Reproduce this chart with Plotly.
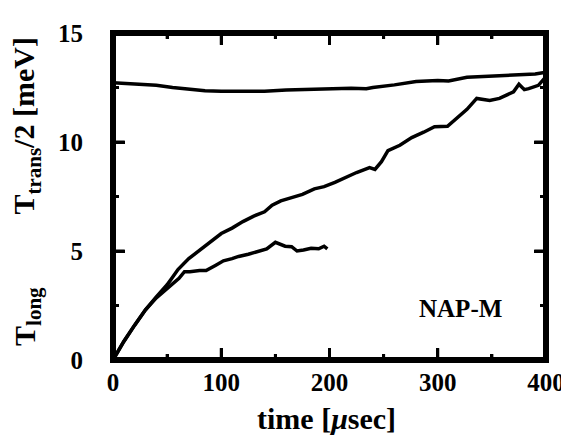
import plotly.graph_objects as go

# T_trans/2 curve
t_trans = [0, 10, 25, 40, 55, 70, 85, 100, 120, 140, 160, 180, 200, 220, 234, 240, 260, 280, 300, 310, 327, 340, 357, 370, 380, 390, 400]
y_trans = [12.72, 12.7, 12.66, 12.6, 12.5, 12.42, 12.35, 12.33, 12.32, 12.33, 12.38, 12.42, 12.45, 12.47, 12.44, 12.5, 12.62, 12.78, 12.82, 12.8, 12.97, 13.0, 13.07, 13.08, 13.1, 13.12, 13.2]

# T_long, long run (to 400 usec)
t_long = [0, 5, 10, 20, 30, 40, 50, 55, 60, 70, 80, 90, 100, 110, 120, 130, 140, 147, 155, 165, 175, 186, 195, 205, 216, 225, 237, 242, 248, 254, 265, 276, 287, 297, 309, 318, 327, 336, 348, 357, 363, 370, 375, 380, 384, 393, 400]
y_long = [0, 0.45, 0.85, 1.6, 2.3, 2.9, 3.45, 3.8, 4.15, 4.65, 5.05, 5.45, 5.8, 6.05, 6.35, 6.6, 6.8, 7.1, 7.3, 7.45, 7.6, 7.85, 7.95, 8.15, 8.4, 8.6, 8.83, 8.74, 9.1, 9.6, 9.85, 10.2, 10.45, 10.7, 10.72, 11.1, 11.5, 12.0, 11.9, 12.0, 12.15, 12.3, 12.65, 12.4, 12.45, 12.6, 13.0]

# T_long, short run (to 200 usec)
t_short = [0, 10, 20, 30, 40, 50, 55, 61, 66, 71, 80, 86, 95, 102, 110, 116, 125, 134, 142, 150, 155, 159, 165, 170, 176, 183, 190, 195, 198]
y_short = [0, 0.85, 1.6, 2.3, 2.85, 3.3, 3.5, 3.75, 4.05, 4.05, 4.1, 4.1, 4.35, 4.55, 4.65, 4.75, 4.85, 5.0, 5.1, 5.4, 5.3, 5.22, 5.2, 5.0, 5.05, 5.13, 5.1, 5.22, 5.1]

x_major = [0, 100, 200, 300, 400]
x_minor = [50, 150, 250, 350]
y_major = [0, 5, 10, 15]
y_minor = [2.5, 7.5, 12.5]

X_RANGE = [0, 400]
Y_RANGE = [0, 15]
FONT = "Liberation Serif"

W, H = 569, 436
M = dict(l=105, r=22, t=21, b=84)
px_x = (X_RANGE[1] - X_RANGE[0]) / (W - M["l"] - M["r"])
px_y = (Y_RANGE[1] - Y_RANGE[0]) / (H - M["t"] - M["b"])

fig = go.Figure()
for xs, ys in [(t_trans, y_trans), (t_long, y_long), (t_short, y_short)]:
    fig.add_trace(go.Scatter(x=xs, y=ys, mode="lines",
                             line=dict(color="black", width=3.5), showlegend=False,
                             hoverinfo="skip"))

# backup tick marks on all four sides (same positions as the axis ticks)
tx, ty = [], []
for vals, ln in [(x_major, 12), (x_minor, 6)]:
    for v in vals:
        tx += [v, v, None, v, v, None]
        ty += [Y_RANGE[0], Y_RANGE[0] + ln * px_y, None, Y_RANGE[1], Y_RANGE[1] - ln * px_y, None]
for vals, ln in [(y_major, 12), (y_minor, 6)]:
    for v in vals:
        tx += [X_RANGE[0], X_RANGE[0] + ln * px_x, None, X_RANGE[1], X_RANGE[1] - ln * px_x, None]
        ty += [v, v, None, v, v, None]
fig.add_trace(go.Scatter(x=tx, y=ty, mode="lines", line=dict(color="black", width=3),
                         showlegend=False, hoverinfo="skip"))

# thick frame around the plot area
fig.add_shape(type="rect", xref="paper", yref="paper", x0=0, x1=1, y0=0, y1=1,
              line=dict(color="black", width=6))

def axis(rng, major, minor, standoff):
    return dict(
        range=rng, tickvals=major,
        showline=True, linewidth=1, linecolor="black", mirror="allticks",
        ticks="inside", ticklen=12, tickwidth=3, tickcolor="black",
        minor=dict(tickvals=minor, ticks="inside", ticklen=6, tickwidth=3, tickcolor="black"),
        ticklabelstandoff=standoff,
        showgrid=False, zeroline=False,
        tickfont=dict(family=FONT, size=25, color="black", weight="bold"),
    )

fig.update_layout(
    width=W, height=H,
    margin=M,
    plot_bgcolor="white", paper_bgcolor="white",
    xaxis=axis(X_RANGE, x_major, x_minor, 0),
    yaxis=axis(Y_RANGE, y_major, y_minor, 24),
)

fig.add_annotation(text="<b>time [<i>μ</i>sec]</b>", xref="paper", yref="paper",
                   x=0.493, y=-0.18, showarrow=False, xanchor="center", yanchor="middle",
                   font=dict(family=FONT, size=30, color="black"))
fig.add_annotation(text="<b>T<sub>long</sub></b>", xref="paper", yref="paper",
                   x=-0.2, y=0.133, textangle=-90, showarrow=False,
                   xanchor="center", yanchor="middle",
                   font=dict(family=FONT, size=30, color="black"))
fig.add_annotation(text="<b>T<sub>trans</sub>/2 [meV]</b>", xref="paper", yref="paper",
                   x=-0.2, y=0.715, textangle=-90, showarrow=False,
                   xanchor="center", yanchor="middle",
                   font=dict(family=FONT, size=30, color="black"))
fig.add_annotation(text="<b>NAP-M</b>", x=321, y=2.36, xref="x", yref="y",
                   showarrow=False, xanchor="center", yanchor="middle",
                   font=dict(family=FONT, size=25, color="black"))

fig.write_html("out.html")
